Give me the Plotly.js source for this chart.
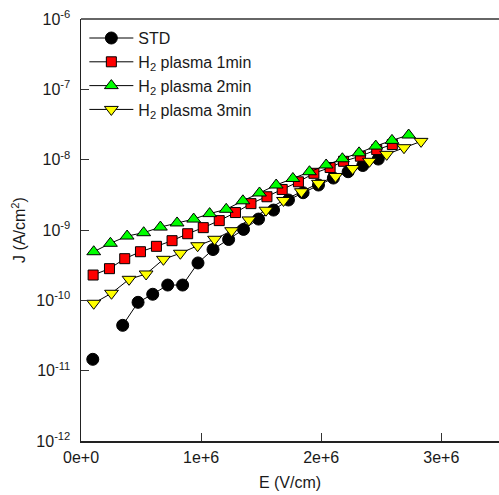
<!DOCTYPE html>
<html>
<head>
<meta charset="utf-8">
<script src="https://cdn.plot.ly/plotly-3.0.1.min.js"></script>
<style>html,body{margin:0;padding:0;background:#fff;}#chart{width:499px;height:495px;}</style>
</head>
<body>
<div id="chart"></div>
<script>
// Series names
const seriesNames = ['STD', 'H<sub>2</sub> plasma 1min', 'H<sub>2</sub> plasma 2min', 'H<sub>2</sub> plasma 3min'];

// STD (black circles) - one missing point creates a gap
const stdE = [0.098e6, 0.223e6, 0.347e6, 0.475e6, 0.597e6, 0.722e6, 0.846e6, 0.974e6, 1.099e6, 1.229e6, 1.353e6, 1.478e6, 1.603e6, 1.727e6, 1.849e6, 1.977e6, 2.101e6, 2.224e6, 2.346e6, 2.475e6];
const stdJ = [1.45e-11, null, 4.41e-11, 9.37e-11, 1.22e-10, 1.65e-10, 1.65e-10, 3.40e-10, 5.28e-10, 7.33e-10, 1.02e-9, 1.43e-9, 1.92e-9, 2.67e-9, 3.39e-9, 4.36e-9, 5.48e-9, 6.74e-9, 8.26e-9, 1.02e-8];

// H2 plasma 1min (red squares)
const p1E = [0.101e6, 0.237e6, 0.364e6, 0.495e6, 0.628e6, 0.758e6, 0.888e6, 1.018e6, 1.151e6, 1.286e6, 1.415e6, 1.548e6, 1.675e6, 1.810e6, 1.939e6, 2.074e6, 2.186e6, 2.326e6, 2.462e6, 2.592e6];
const p1J = [2.29e-10, 2.82e-10, 3.91e-10, 4.91e-10, 5.86e-10, 7.05e-10, 8.85e-10, 1.08e-9, 1.36e-9, 1.77e-9, 2.37e-9, 2.97e-9, 3.77e-9, 4.84e-9, 6.40e-9, 7.74e-9, 9.48e-9, 1.12e-8, 1.39e-8, 1.64e-8];

// H2 plasma 2min (green triangles up)
const p2E = [0.106e6, 0.245e6, 0.384e6, 0.522e6, 0.661e6, 0.800e6, 0.938e6, 1.071e6, 1.209e6, 1.348e6, 1.486e6, 1.625e6, 1.764e6, 1.902e6, 2.041e6, 2.176e6, 2.315e6, 2.454e6, 2.589e6, 2.728e6];
const p2J = [4.91e-10, 6.47e-10, 8.2e-10, 9.15e-10, 1.10e-9, 1.26e-9, 1.43e-9, 1.71e-9, 1.97e-9, 2.60e-9, 3.36e-9, 4.36e-9, 5.40e-9, 6.74e-9, 8.40e-9, 1.03e-8, 1.25e-8, 1.56e-8, 1.88e-8, 2.24e-8];

// H2 plasma 3min (yellow triangles down)
const p3E = [0.106e6, 0.254e6, 0.400e6, 0.542e6, 0.686e6, 0.827e6, 0.971e6, 1.112e6, 1.254e6, 1.398e6, 1.540e6, 1.686e6, 1.835e6, 1.977e6, 2.119e6, 2.261e6, 2.401e6, 2.545e6, 2.689e6, 2.831e6];
const p3J = [9.08e-11, 1.26e-10, 1.99e-10, 2.37e-10, 3.83e-10, 4.67e-10, 5.98e-10, 7.38e-10, 9.77e-10, 1.39e-9, 1.91e-9, 2.63e-9, 3.50e-9, 4.61e-9, 5.77e-9, 7.48e-9, 9.48e-9, 1.19e-8, 1.48e-8, 1.82e-8];

// Tick labels
const xTickVals = [0, 1e6, 2e6, 3e6];
const xTickText = ['0e+0', '1e+6', '2e+6', '3e+6'];
const yTickVals = [1e-12, 1e-11, 1e-10, 1e-9, 1e-8, 1e-7, 1e-6];
const yTickText = ['10<sup>-12</sup>', '10<sup>-11</sup>', '10<sup>-10</sup>', '10<sup>-9</sup>', '10<sup>-8</sup>', '10<sup>-7</sup>', '10<sup>-6</sup>'];

const FONT = 'Arial, "Liberation Sans", sans-serif';
const lineStyle = {color: '#000000', width: 1};
const outline = {color: '#000000', width: 1};

const traces = [
  {x: stdE, y: stdJ, name: seriesNames[0], mode: 'lines+markers', connectgaps: false, line: lineStyle,
   marker: {symbol: 'circle', size: 12, color: '#000000', line: outline}},
  {x: p1E, y: p1J, name: seriesNames[1], mode: 'lines+markers', line: lineStyle,
   marker: {symbol: 'square', size: 10, color: '#ff0000', line: outline}},
  {x: p2E, y: p2J, name: seriesNames[2], mode: 'lines+markers', line: lineStyle,
   marker: {symbol: 'triangle-up', size: 12, color: '#00ff00', line: outline}},
  {x: p3E, y: p3J, name: seriesNames[3], mode: 'lines+markers', line: lineStyle,
   marker: {symbol: 'triangle-down', size: 12, color: '#ffff00', line: outline}}
];

const layout = {
  width: 499, height: 495,
  margin: {l: 81, r: 0, t: 19, b: 54},
  paper_bgcolor: '#ffffff', plot_bgcolor: '#ffffff',
  font: {family: FONT, size: 16, color: '#1a1a1a'},
  showlegend: true,
  legend: {x: 0.008, y: 0.995, xanchor: 'left', yanchor: 'top', bgcolor: 'rgba(0,0,0,0)',
           font: {family: FONT, size: 16, color: '#1a1a1a'}, itemwidth: 44},
  xaxis: {
    range: [0, 3.48e6], tickmode: 'array', tickvals: xTickVals, ticktext: xTickText,
    ticks: 'inside', ticklen: 8, tickwidth: 1, tickcolor: '#333333',
    showline: true, linecolor: '#222222', linewidth: 1.5, showgrid: false, zeroline: false,
    title: {text: 'E (V/cm)', font: {family: FONT, size: 16, color: '#1a1a1a'}, standoff: 12},
    tickfont: {family: FONT, size: 16, color: '#1a1a1a'},
    ticklabelstandoff: 1
  },
  yaxis: {
    type: 'log', range: [-12, -6], tickmode: 'array', tickvals: yTickVals, ticktext: yTickText,
    ticks: 'inside', ticklen: 8, tickwidth: 1, tickcolor: '#333333',
    showline: true, linecolor: '#222222', linewidth: 1.5, showgrid: false, zeroline: false,
    title: {text: 'J (A/cm<sup>2</sup>)', font: {family: FONT, size: 16, color: '#1a1a1a'}, standoff: 6},
    tickfont: {family: FONT, size: 16, color: '#1a1a1a'},
    ticklabelstandoff: 6
  },
  shapes: [
    {type: 'line', xref: 'paper', yref: 'paper', x0: 0, x1: 1, y0: 1, y1: 1,
     line: {color: '#666666', width: 2}}
  ]
};

Plotly.newPlot('chart', traces, layout, {staticPlot: true, displayModeBar: false});
</script>
</body>
</html>
